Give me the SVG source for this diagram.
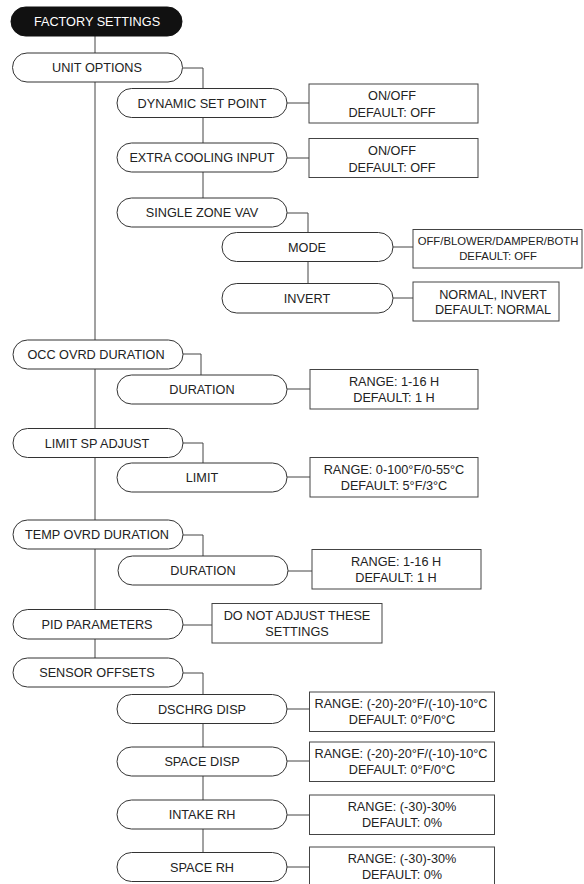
<svg xmlns="http://www.w3.org/2000/svg" width="584" height="884" viewBox="0 0 584 884">
<style>
.pill{fill:#fff;stroke:#333;stroke-width:1}
.dark{fill:#111;stroke:#111;stroke-width:1}
.box{fill:#fff;stroke:#444;stroke-width:1}
.con{fill:none;stroke:#444;stroke-width:1}
text{font-family:"Liberation Sans",Arial,sans-serif;font-size:12.7px;fill:#222;text-anchor:middle}
.w{fill:#fff}
.sm{font-size:11.3px}
</style>
<rect width="584" height="884" fill="#fff"/>
<g id="connectors">
<path class="con" d="M95 36V53"/>
<path class="con" d="M95 82V340M95 369V428M95 458V520M95 549V609M95 639V658"/>
<path class="con" d="M183 68H203V88M203 118V143M203 172V198"/>
<path class="con" d="M287 103H309M287 158H309"/>
<path class="con" d="M287 213H308V232M308 262V283"/>
<path class="con" d="M393 247H413M393 298H413"/>
<path class="con" d="M183 354H201V375M287 389H310"/>
<path class="con" d="M183 443H203V463M287 477H310"/>
<path class="con" d="M183 535H203V556M288 571H312"/>
<path class="con" d="M183 625H212"/>
<path class="con" d="M183 673H203V694M203 723V747M203 776V800M203 829V852"/>
<path class="con" d="M287 709H309M287 761H309M287 815H309M287 867H309"/>
</g>
<g id="factory-settings"><rect class="dark" x="11" y="7" width="171" height="29" rx="14.5"/><text class="w" x="97" y="26">FACTORY SETTINGS</text></g>
<g id="unit-options"><rect class="pill" x="12.5" y="53" width="170" height="29" rx="14.5"/><text x="97" y="72">UNIT OPTIONS</text></g>
<g id="dynamic-set-point"><rect class="pill" x="117" y="88.5" width="170" height="29" rx="14.5"/><text x="202" y="107.5">DYNAMIC SET POINT</text></g>
<g id="dyn-value"><rect class="box" x="309" y="84" width="169" height="39"/><text x="392" y="100">ON/OFF</text><text x="392" y="117">DEFAULT: OFF</text></g>
<g id="extra-cooling-input"><rect class="pill" x="117" y="143" width="170" height="29" rx="14.5"/><text x="202" y="162">EXTRA COOLING INPUT</text></g>
<g id="extra-value"><rect class="box" x="309" y="138.5" width="169" height="39"/><text x="392" y="154.5">ON/OFF</text><text x="392" y="171.5">DEFAULT: OFF</text></g>
<g id="single-zone-vav"><rect class="pill" x="117" y="198" width="170" height="29" rx="14.5"/><text x="202" y="217">SINGLE ZONE VAV</text></g>
<g id="mode"><rect class="pill" x="222" y="232.5" width="171" height="29" rx="14.5"/><text x="307" y="251.5">MODE</text></g>
<g id="mode-value"><rect class="box" x="413" y="229.5" width="169" height="38.5"/><text class="sm" x="498" y="245">OFF/BLOWER/DAMPER/BOTH</text><text class="sm" x="498" y="260">DEFAULT: OFF</text></g>
<g id="invert"><rect class="pill" x="222" y="283.5" width="171" height="29.5" rx="14.75"/><text x="307" y="303">INVERT</text></g>
<g id="invert-value"><rect class="box" x="413" y="282" width="146" height="39"/><text x="493" y="299">NORMAL, INVERT</text><text x="493" y="314">DEFAULT: NORMAL</text></g>
<g id="occ-ovrd-duration"><rect class="pill" x="13" y="340" width="170" height="29" rx="14.5"/><text x="96" y="359">OCC OVRD DURATION</text></g>
<g id="occ-duration"><rect class="pill" x="117" y="375" width="170" height="29" rx="14.5"/><text x="202" y="394">DURATION</text></g>
<g id="occ-value"><rect class="box" x="310" y="369.5" width="168" height="39.5"/><text x="394" y="386">RANGE: 1-16 H</text><text x="394" y="402">DEFAULT: 1 H</text></g>
<g id="limit-sp-adjust"><rect class="pill" x="13" y="428.5" width="170" height="29" rx="14.5"/><text x="97" y="447.5">LIMIT SP ADJUST</text></g>
<g id="limit"><rect class="pill" x="117" y="463" width="170" height="29" rx="14.5"/><text x="202" y="482">LIMIT</text></g>
<g id="limit-value"><rect class="box" x="310" y="457.5" width="168" height="39.5"/><text x="394" y="474">RANGE: 0-100°F/0-55°C</text><text x="394" y="490">DEFAULT: 5°F/3°C</text></g>
<g id="temp-ovrd-duration"><rect class="pill" x="13" y="520" width="170" height="29" rx="14.5"/><text x="97" y="539">TEMP OVRD DURATION</text></g>
<g id="temp-duration"><rect class="pill" x="118" y="556" width="170" height="29" rx="14.5"/><text x="203" y="575">DURATION</text></g>
<g id="temp-value"><rect class="box" x="312" y="549.5" width="169" height="39.5"/><text x="396" y="566">RANGE: 1-16 H</text><text x="396" y="582">DEFAULT: 1 H</text></g>
<g id="pid-parameters"><rect class="pill" x="13" y="609.5" width="170" height="29.5" rx="14.75"/><text x="97" y="629">PID PARAMETERS</text></g>
<g id="pid-value"><rect class="box" x="212" y="603.5" width="170" height="39.5"/><text x="297" y="620">DO NOT ADJUST THESE</text><text x="297" y="636">SETTINGS</text></g>
<g id="sensor-offsets"><rect class="pill" x="13" y="658" width="170" height="29" rx="14.5"/><text x="97" y="677">SENSOR OFFSETS</text></g>
<g id="dschrg-disp"><rect class="pill" x="117" y="694.5" width="170" height="29" rx="14.5"/><text x="202" y="713.5">DSCHRG DISP</text></g>
<g id="dschrg-value"><rect class="box" x="309.5" y="692" width="185" height="39.5"/><text x="401" y="708">RANGE: (-20)-20°F/(-10)-10°C</text><text x="402" y="724">DEFAULT: 0°F/0°C</text></g>
<g id="space-disp"><rect class="pill" x="117" y="747" width="170" height="29" rx="14.5"/><text x="202" y="766">SPACE DISP</text></g>
<g id="space-disp-value"><rect class="box" x="309.5" y="742" width="185" height="39.5"/><text x="401" y="758">RANGE: (-20)-20°F/(-10)-10°C</text><text x="402" y="774">DEFAULT: 0°F/0°C</text></g>
<g id="intake-rh"><rect class="pill" x="117" y="800" width="170" height="29" rx="14.5"/><text x="202" y="819">INTAKE RH</text></g>
<g id="intake-value"><rect class="box" x="309.5" y="795" width="185" height="39.5"/><text x="402" y="811">RANGE: (-30)-30%</text><text x="402" y="827">DEFAULT: 0%</text></g>
<g id="space-rh"><rect class="pill" x="117" y="852.5" width="170" height="29" rx="14.5"/><text x="202" y="871.5">SPACE RH</text></g>
<g id="space-rh-value"><rect class="box" x="309.5" y="847" width="185" height="40"/><text x="402" y="863">RANGE: (-30)-30%</text><text x="402" y="879">DEFAULT: 0%</text></g>
</svg>
